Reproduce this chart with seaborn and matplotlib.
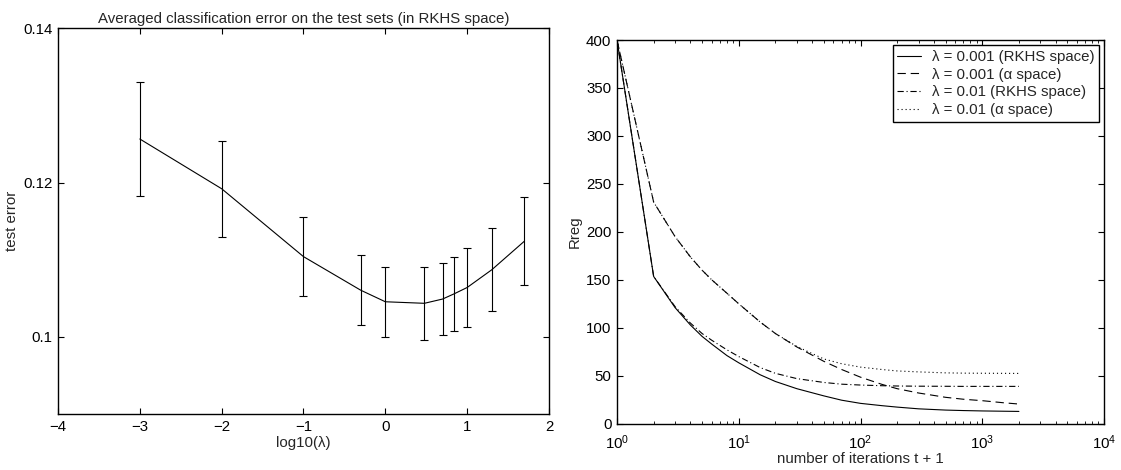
import numpy as np
import pandas as pd
import matplotlib
matplotlib.use("Agg")
import matplotlib.pyplot as plt
import seaborn as sns

# ---------------- data: left panel ----------------
log_lambda = [-3.0, -2.0, -1.0, -0.301, 0.0, 0.477, 0.699, 0.845, 1.0, 1.301, 1.699]
test_error = [0.12565, 0.1192, 0.1104, 0.10605, 0.10455, 0.10435, 0.1049, 0.1056, 0.1064, 0.1087, 0.1124]
test_err_sd = [0.00745, 0.0062, 0.0051, 0.00455, 0.00455, 0.00475, 0.0047, 0.0048, 0.0051, 0.0054, 0.0057]
left_xticks = [-4, -3, -2, -1, 0, 1, 2]
left_yticks = [0.1, 0.12, 0.14]
left_yticklabels = ["0.1", "0.12", "0.14"]

# ---------------- data: right panel ----------------
iters = [1, 2, 3, 4, 5, 6, 8, 10, 15, 20, 30, 50, 70, 100, 150, 200, 300, 500, 700, 1000, 1500, 2000]
rkhs_0001 = [400, 153.5, 121, 103, 91, 83, 71, 63.5, 51, 44, 36.5, 29, 24.5, 21.2, 18.8, 17.3, 15.5, 14.2, 13.7, 13.3, 13.0, 12.8]
alpha_0001 = [400, 231, 195, 174, 160, 150, 136, 125, 106, 94, 80, 65, 56.5, 48.5, 41, 36.5, 32, 27.5, 25.5, 24, 21.8, 20.5]
rkhs_001 = [400, 153.5, 122, 105, 94, 87, 77, 70, 58.5, 52.5, 47, 43, 41.2, 40.3, 39.6, 39.3, 39.1, 39.0, 38.9, 38.9, 38.9, 38.9]
alpha_001 = [400, 231, 195, 174, 160, 150, 136, 125, 106, 94, 80.5, 67.5, 62.5, 59, 56.5, 55, 54, 53, 52.7, 52.6, 52.5, 52.4]
series_labels = ["\u03bb = 0.001 (RKHS space)", "\u03bb = 0.001 (\u03b1 space)",
                 "\u03bb = 0.01 (RKHS space)", "\u03bb = 0.01 (\u03b1 space)"]
right_yticks = [0, 50, 100, 150, 200, 250, 300, 350, 400]

# ---------------- style ----------------
FS = 10.8
sns.set_theme(style="ticks")
plt.rcParams["font.family"] = ["Liberation Sans", "DejaVu Sans"]
plt.rcParams["font.size"] = FS
plt.rcParams["lines.scale_dashes"] = False
plt.rcParams["axes.linewidth"] = 1.0

fig = plt.figure(figsize=(11.21, 4.70), dpi=100)
ax1 = fig.add_axes([0.05174, 0.11915, 0.43800, 0.82064])
ax2 = fig.add_axes([0.55040, 0.09851, 0.43444, 0.81638])

# ---------------- left panel ----------------
sns.lineplot(x=log_lambda, y=test_error, ax=ax1, color="black", lw=0.8)
ax1.errorbar(log_lambda, test_error, yerr=test_err_sd, fmt="none",
             ecolor="black", elinewidth=0.8, capsize=2.6, capthick=0.8)
ax1.set_xlim(-4, 2)
ax1.set_ylim(0.09, 0.14)
ax1.set_xticks(left_xticks)
ax1.set_yticks(left_yticks, labels=left_yticklabels)
ax1.set_xlabel("log10(\u03bb)", fontsize=FS, labelpad=2)
ax1.set_ylabel("test error", fontsize=FS, labelpad=3)
ax1.set_title("Averaged classification error on the test sets (in RKHS space)", fontsize=FS, pad=4)

# ---------------- right panel ----------------
styles = ["-", (0, (6, 3.5)), (0, (4.5, 2, 0.8, 2)), (0, (0.8, 2.1))]
for vals, lab, ls in zip([rkhs_0001, alpha_0001, rkhs_001, alpha_001], series_labels, styles):
    sns.lineplot(x=iters, y=vals, ax=ax2, color="black", lw=0.8, linestyle=ls, label=lab)
ax2.set_xscale("log")
ax2.set_xlim(1, 1e4)
ax2.set_ylim(0, 400)
ax2.set_yticks(right_yticks)
ax2.set_xlabel("number of iterations t + 1", fontsize=FS, labelpad=0)
ax2.set_ylabel("Rreg", fontsize=FS, labelpad=3)
leg = ax2.legend(loc="upper right", bbox_to_anchor=(1, 1), borderaxespad=0.35,
                 fancybox=False, framealpha=1, edgecolor="black", fontsize=FS,
                 handlelength=1.6, handletextpad=0.7, labelspacing=0.25, borderpad=0.3)
leg.get_frame().set_linewidth(1.0)

for ax in (ax1, ax2):
    for s in ax.spines.values():
        s.set_visible(True)
        s.set_color("black")
    ax.tick_params(which="both", direction="in", top=True, right=True, colors="black",
                   labelcolor="black", labelsize=FS)
    ax.tick_params(which="major", length=4, width=0.8, pad=4)
    ax.tick_params(which="minor", length=2, width=0.6)
ax2.tick_params(axis="x", which="major", pad=7)

fig.savefig("out.png", dpi=100)
